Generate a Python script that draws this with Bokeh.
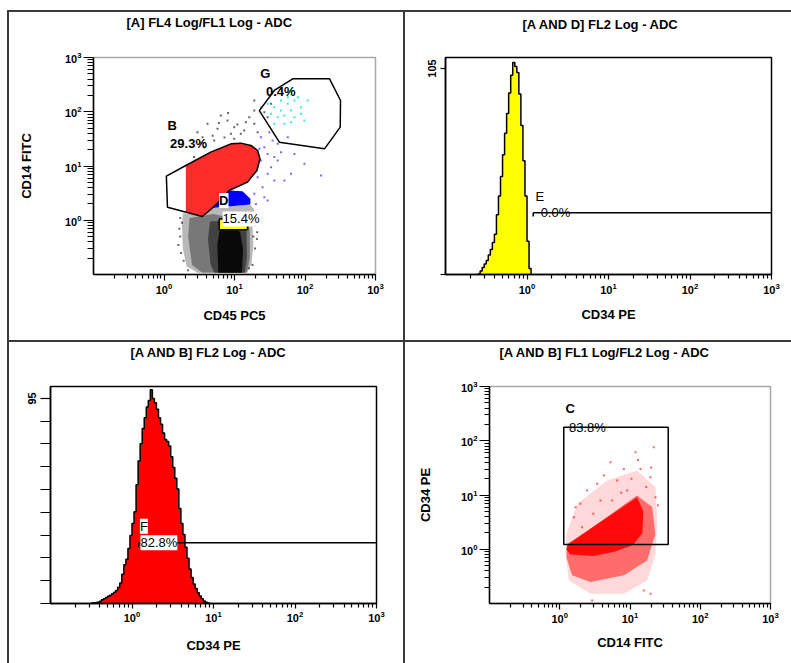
import numpy as np
from bokeh.plotting import figure
from bokeh.layouts import row, column
from bokeh.models import Range1d, FixedTicker, Label, Div, Title
from bokeh.embed import file_html
from bokeh.resources import INLINE

FONT = "Liberation Sans"
RULE = "#3a3a3a"

# ---------------- [A] FL4 Log/FL1 Log : CD45 PC5 (x) vs CD14 FITC (y) ----------------
gate_b_x = [1.08, 1.12, 3.5, 5.15, 6.4, 8.4, 15.3, 20.8, 23.0, 21.3, 17.1, 12.3, 8.9, 4.6, 2.04]
gate_b_y = [6.5, 1.74, 1.17, 1.79, 2.38, 3.53, 5.04, 8.26, 13.6, 19.3, 23.9, 26.4, 25.6, 18.0, 10.2]
gate_g_x = [67, 223, 319, 316, 189, 43.3, 22.5, 36.7]
gate_g_y = [405, 405, 161, 52, 20.7, 27.5, 105, 247]
gate_d_x = [6.07, 15.3]
gate_d_y = [0.665, 1.06]

# density outlines of the populations
mono_x = [2.04, 2.04, 3.5, 5.15, 6.4, 8.4, 15.3, 20.8, 23.0, 21.3, 17.1, 12.3, 8.9, 4.6]
mono_y = [10.2, 1.41, 1.17, 1.79, 2.38, 3.53, 5.04, 8.26, 13.6, 19.3, 23.9, 26.4, 25.6, 18.0]
blue_core_x = [4.72, 6.4, 8.4, 13.0, 16.8, 16.8]
blue_core_y = [1.69, 2.38, 3.53, 3.43, 2.48, 1.95]
lymph_outer_x = [1.85, 1.8, 1.85, 2.1, 3.0, 15.0, 17.5, 18.5, 18.0, 19.0, 16.5, 4.7, 3.5, 2.5]
lymph_outer_y = [1.35, 0.8, 0.3, 0.14, 0.108, 0.108, 0.16, 0.35, 0.8, 1.6, 1.95, 1.69, 1.15, 1.3]
lymph_mid_x = [2.3, 2.2, 2.5, 3.5, 15.0, 16.5, 16.5, 15.5, 9.0, 5.0]
lymph_mid_y = [1.1, 0.5, 0.15, 0.108, 0.108, 0.2, 0.6, 1.05, 1.1, 1.3]
lymph_inner_x = [4.5, 4.2, 4.6, 5.2, 14.0, 15.0, 14.8, 13.5, 9.0]
lymph_inner_y = [0.95, 0.45, 0.15, 0.108, 0.108, 0.2, 0.6, 0.9, 1.0]
lymph_core_x = [6.2, 5.7, 5.9, 12.8, 13.2, 12.0, 9.5]
lymph_core_y = [0.7, 0.35, 0.108, 0.108, 0.3, 0.6, 0.85]

# scattered events
black_x = [2.98, 4.14, 5.74, 7.96, 9.9, 12.3, 16.2, 19.1, 5.15, 9.9, 3.71, 19.1, 6.4, 13.7, 2.67,
           21.3, 8.9, 3.52, 19.1, 26.5, 29.5, 33, 1.7, 1.75, 18.5, 19.5, 20.5, 1.8, 1.65, 18, 21,
           4.9, 7.2, 11.0, 14.5, 3.3, 6.0, 8.1, 24.0, 1.6, 1.7, 1.9, 19.8, 20.8, 17.8, 2.2, 16.0]
black_y = [42.0, 59.8, 48.4, 69.0, 52, 39.2, 79.4, 105, 29.5, 31.7, 22.2, 161, 85, 45, 14.6,
           42, 39.2, 34, 59.8, 98, 79.4, 140, 0.5, 0.25, 0.5, 0.3, 1.0, 0.9, 0.7, 0.15, 0.6,
           36.0, 33.5, 58.0, 64.0, 27.0, 62.0, 95.0, 120.0, 0.35, 1.1, 0.18, 0.8, 0.45, 1.3, 0.12, 0.13]
blue_x = [26.5, 29.5, 23.7, 33, 29.5, 36.7, 41, 45.7, 21.3, 25, 19.1, 26.5, 29.5, 63.4, 98, 169,
          51, 70.8, 22.5, 34.7, 41, 23.7, 31.2, 36.7, 20.1, 57]
blue_y = [22.2, 16.7, 12.6, 9.5, 7.2, 14.6, 25.6, 18, 6.2, 4.07, 3.07, 2.66, 2.31, 7.2, 11, 6.7,
          5.4, 16.7, 20.7, 29.5, 12.6, 34, 42, 5.4, 2.0, 34]
cyan_x = [29.5, 36.7, 45.7, 57, 63.4, 70.8, 51, 41, 70.8, 88, 79, 36.7, 51, 88, 57, 109, 45.7, 33, 63.4, 98]
cyan_y = [140, 121, 105, 140, 105, 161, 85, 79.4, 79.4, 121, 186, 59.8, 59.8, 91.6, 186, 161, 161, 91.6, 64.3, 69]

# ---------------- [A AND D] FL2 Log histogram (CD34 PE) ----------------
e_bin_start, e_bin_step = -0.6, 0.025          # log10 channel grid
yellow_counts = [0.3, 1.8, 3.6, 5.4, 7.1, 9.9, 12.7, 16.3, 20.5, 30.5, 40, 50, 61, 72, 82, 92.5,
                 101.5, 108, 106, 103, 92, 76, 58, 40, 17, 3]
marker_e_start, marker_e_level = 1.19, 31.5

# ---------------- [A AND B] FL2 Log histogram (CD34 PE) ----------------
f_bin_start, f_bin_step = -0.5, 0.025
red_counts = [0.2, 0.4, 0.5, 0.6, 1.0, 1.7, 2.2, 2.8, 3.3, 3.8, 4.5, 5.2, 6.0, 7.5, 9.5, 13.5, 18,
              20.5, 25.5, 31.5, 37, 42.5, 55, 66, 74, 81, 86, 91, 94, 99, 95, 93, 90, 86, 83, 79,
              76, 75, 73, 68, 63, 58, 53, 44, 37, 32, 26, 21, 16, 12, 9, 7, 5, 3.5, 2.2, 1.2, 0.6, 0.2]
marker_f_start, marker_f_level = 1.21, 28.1

# ---------------- [A AND B] FL1 Log/FL2 Log : CD14 FITC (x) vs CD34 PE (y) ----------------
gate_c_x = [1.14, 35.0]
gate_c_y = [1.22, 178]
cd34_outer_x = [1.25, 1.77, 4.73, 12.6, 23.1, 24.4, 23.1, 17.5, 8.2, 2.74, 1.35, 1.21]
cd34_outer_y = [1.92, 6.9, 18.5, 28.3, 13.9, 3.39, 0.82, 0.265, 0.151, 0.151, 0.265, 0.82]
cd34_mid_x = [1.25, 2.74, 12.6, 20.7, 23.0, 17.5, 8.2, 2.74, 1.5, 1.25]
cd34_mid_y = [1.1, 2.38, 9.8, 6.0, 1.9, 0.62, 0.33, 0.25, 0.33, 0.7]
cd34_core_x = [1.3, 12.6, 15.5, 15.0, 11.0, 6.0, 3.0, 1.4, 1.25]
cd34_core_y = [1.25, 9.1, 5.0, 2.0, 1.2, 0.9, 0.75, 0.8, 1.0]
cd34_dots_x = [12.0, 21.8, 5.27, 8.17, 14.1, 4.25, 6.56, 19.6, 1.97, 2.45, 3.41, 1.59, 1.68, 9.1,
               23.1, 2.89, 15.7, 19.6, 3.8, 5.57, 2.08, 10.5, 17.0, 7.5, 3.0, 20.0, 25.0, 13.0]
cd34_dots_y = [61.7, 76.2, 40.3, 30.3, 30.3, 22.9, 18.5, 21.3, 6.87, 12.1, 16.1, 3.9, 5.97, 12.1,
               9.1, 0.114, 0.174, 0.151, 7.9, 7.9, 2.55, 20.0, 14.0, 11.0, 4.5, 32.0, 6.5, 44.0]


def decade_ticker():
    majors = [1, 10, 100, 1000]
    minors = [m * 10.0 ** e for e in (-1, 0, 1, 2) for m in range(2, 10)]
    return FixedTicker(ticks=majors, minor_ticks=minors)


def style_axis(ax, tick_out, minor_out, label_standoff, axis_standoff):
    ax.axis_line_color = "black"
    ax.axis_line_width = 1.5
    ax.major_tick_line_color = "black"
    ax.minor_tick_line_color = "black"
    ax.major_tick_line_width = 1.2
    ax.minor_tick_line_width = 1.2
    ax.major_tick_in = 0
    ax.minor_tick_in = 0
    ax.major_tick_out = tick_out
    ax.minor_tick_out = minor_out
    ax.major_label_standoff = label_standoff
    ax.axis_label_standoff = axis_standoff
    ax.major_label_text_font = FONT
    ax.major_label_text_font_size = "11px"
    ax.major_label_text_font_style = "bold"
    ax.major_label_text_color = "black"
    ax.axis_label_text_font = FONT
    ax.axis_label_text_font_size = "13px"
    ax.axis_label_text_font_style = "bold"
    ax.axis_label_text_color = "black"


def panel(w, h, borders, y_log, y_end, outline, heading, heading_offset, heading_gap):
    left, right, top, bottom = borders
    p = figure(width=w, height=h, x_axis_type="log",
               y_axis_type="log" if y_log else "linear",
               x_range=Range1d(0.1, 1000),
               y_range=Range1d(0.1, 1000) if y_log else Range1d(0, y_end),
               output_backend="svg", toolbar_location=None, title=None,
               min_border_left=left, min_border_right=right,
               min_border_top=top, min_border_bottom=bottom,
               margin=(0, 0, 0, 0))
    p.grid.visible = False
    p.outline_line_color = outline
    p.outline_line_width = 1.5
    p.background_fill_color = "white"
    p.border_fill_color = "white"
    p.xaxis.ticker = decade_ticker()
    # blank band between heading and plot frame, then the heading itself
    p.add_layout(Title(text=" ", text_font_size="1px", standoff=heading_gap), "above")
    p.add_layout(Title(text=heading, align="left", offset=heading_offset, standoff=0,
                       text_font=FONT, text_font_size="13px", text_font_style="bold",
                       text_color="black"), "above")
    return p


def tag(p, text, x, y, bold=True, bg=None):
    kw = {}
    if bg is not None:
        kw = dict(background_fill_color=bg, background_fill_alpha=1.0)
    p.add_layout(Label(x=x, y=y, text=text, text_align="left", text_baseline="alphabetic",
                       text_font=FONT, text_font_size="13px",
                       text_font_style="bold" if bold else "normal",
                       text_color="black", **kw))


def histogram(p, start, step, counts, fill):
    counts = np.asarray(counts, dtype=float)
    edges = 10.0 ** (start + step * np.arange(len(counts) + 1))
    ox = np.repeat(edges, 2)
    oy = np.concatenate([[0.0], np.repeat(counts, 2), [0.0]])
    p.patch(ox, oy, fill_color=fill, fill_alpha=1.0, line_color="black", line_width=1.5)


def bar(w, h, margin=(0, 0, 0, 0)):
    return Div(text="", width=w, height=h, margin=margin,
               styles={"background-color": RULE})


# ---- top left: dot plot A ----
tl = panel(394, 328, (84, 28, 45, 66), True, None, "#a8a8a8", "[A] FL4 Log/FL1 Log - ADC", 33, 25)
tl.yaxis.ticker = decade_ticker()
style_axis(tl.xaxis[0], 6, 4, 2, 11)
style_axis(tl.yaxis[0], 10, 6, 2, 28)
tl.xaxis.axis_label = "CD45 PC5"
tl.yaxis.axis_label = "CD14 FITC"

tl.patch(lymph_outer_x, lymph_outer_y, fill_color="black", fill_alpha=0.28, line_color=None)
tl.patch(lymph_mid_x, lymph_mid_y, fill_color="black", fill_alpha=0.35, line_color=None)
tl.patch(lymph_inner_x, lymph_inner_y, fill_color="black", fill_alpha=0.45, line_color=None)
tl.patch(lymph_core_x, lymph_core_y, fill_color="black", fill_alpha=0.85, line_color=None)
tl.patch(mono_x, mono_y, fill_color="#ff1a1a", fill_alpha=0.92, line_color=None)
tl.patch(blue_core_x, blue_core_y, fill_color="#0000ff", fill_alpha=1.0, line_color=None)
tl.scatter(black_x, black_y, marker="square", size=2, fill_color="black", fill_alpha=0.6, line_color=None)
tl.scatter(blue_x, blue_y, marker="square", size=2, fill_color="#3030ff", fill_alpha=0.7, line_color=None)
tl.scatter(cyan_x, cyan_y, marker="square", size=2, fill_color="#00e5e5", fill_alpha=0.8, line_color=None)
tl.patch(gate_b_x, gate_b_y, fill_color=None, line_color="black", line_width=1.5)
tl.patch(gate_g_x, gate_g_y, fill_color=None, line_color="black", line_width=1.5)
tl.quad(left=gate_d_x[0], right=gate_d_x[1], bottom=gate_d_y[0], top=gate_d_y[1],
        fill_color="#ffff00", line_color="black", line_width=1.5)
tag(tl, "B", 1.12, 55.8)
tag(tl, "29.3%", 1.22, 25.6)
tag(tl, "G", 23.2, 514)
tag(tl, "0.4%", 28.0, 239)
tag(tl, "D", 6.05, 2.31, bg="white")
tag(tl, "15.4%", 6.78, 1.06, bold=False, bg="white")

# ---- top right: histogram A AND D ----
tr = panel(386, 328, (40, 20, 44, 66), False, 110.6, "black", "[A AND D] FL2 Log - ADC", 77, 23)
tr.yaxis.ticker = FixedTicker(ticks=[105], minor_ticks=[0])
style_axis(tr.xaxis[0], 5, 4, 3, 10)
style_axis(tr.yaxis[0], 5, 5, 4, 10)
tr.yaxis.major_label_orientation = "vertical"
tr.xaxis.axis_label = "CD34 PE"
histogram(tr, e_bin_start, e_bin_step, yellow_counts, "#ffff00")
tr.line([marker_e_start, 1000], [marker_e_level, marker_e_level], line_color="black", line_width=1.5)
tr.segment(x0=[marker_e_start], y0=[marker_e_level], x1=[marker_e_start], y1=[marker_e_level - 2],
           line_color="black", line_width=1.5)
tag(tr, "E", 1.27, 39.6, bold=False)
tag(tr, "0.0%", 1.47, 31.5, bold=False)

# ---- bottom left: histogram A AND B ----
bl = panel(394, 321, (41, 27, 42, 60), False, 100.5, "black", "[A AND B] FL2 Log - ADC", 80, 24)
bl.yaxis.ticker = FixedTicker(ticks=[95], minor_ticks=[95 * k / 9 for k in range(9)])
style_axis(bl.xaxis[0], 5, 4, 2, 13)
style_axis(bl.yaxis[0], 10, 10, 4, 10)
bl.yaxis.major_label_orientation = "vertical"
bl.xaxis.axis_label = "CD34 PE"
histogram(bl, f_bin_start, f_bin_step, red_counts, "#ff0000")
bl.line([marker_f_start, 1000], [marker_f_level, marker_f_level], line_color="black", line_width=1.5)
bl.segment(x0=[marker_f_start], y0=[marker_f_level], x1=[marker_f_start], y1=[marker_f_level - 2],
           line_color="black", line_width=1.5)
tag(bl, "F", 1.25, 35.8, bold=False, bg="white")
tag(bl, "82.8%", 1.27, 28.1, bold=False, bg="white")

# ---- bottom right: dot plot A AND B ----
br = panel(386, 321, (84, 21, 44, 60), True, None, "#a8a8a8", "[A AND B] FL1 Log/FL2 Log - ADC", 10, 24)
br.yaxis.ticker = decade_ticker()
style_axis(br.xaxis[0], 6, 4, 2, 9)
style_axis(br.yaxis[0], 10, 5, 2, 25)
br.xaxis.axis_label = "CD14 FITC"
br.yaxis.axis_label = "CD34 PE"
br.patch(cd34_outer_x, cd34_outer_y, fill_color="#ff0000", fill_alpha=0.15, line_color=None)
br.patch(cd34_mid_x, cd34_mid_y, fill_color="#ff0000", fill_alpha=0.5, line_color=None)
br.patch(cd34_core_x, cd34_core_y, fill_color="#ff0000", fill_alpha=0.9, line_color=None)
br.scatter(cd34_dots_x, cd34_dots_y, marker="square", size=2, fill_color="#ff0000", fill_alpha=0.6, line_color=None)
br.quad(left=gate_c_x[0], right=gate_c_x[1], bottom=gate_c_y[0], top=gate_c_y[1],
        fill_color=None, line_color="black", line_width=1.5)
tag(br, "C", 1.21, 393)
tag(br, "83.8%", 1.35, 178, bold=False)

# ---- frame of the four-panel sheet ----
layout = row(
    Div(text="", width=7, height=663, margin=(0, 0, 0, 0)),
    bar(2, 653, (10, 0, 0, 0)),
    column(
        bar(782, 2, (10, 0, 0, 0)),
        row(tl, bar(2, 328), tr, margin=(0, 0, 0, 0)),
        bar(782, 2),
        row(bl, bar(2, 321), br, margin=(0, 0, 0, 0)),
        margin=(0, 0, 0, 0),
    ),
    margin=(0, 0, 0, 0),
)
open("out.html", "w").write(file_html(layout, INLINE))
